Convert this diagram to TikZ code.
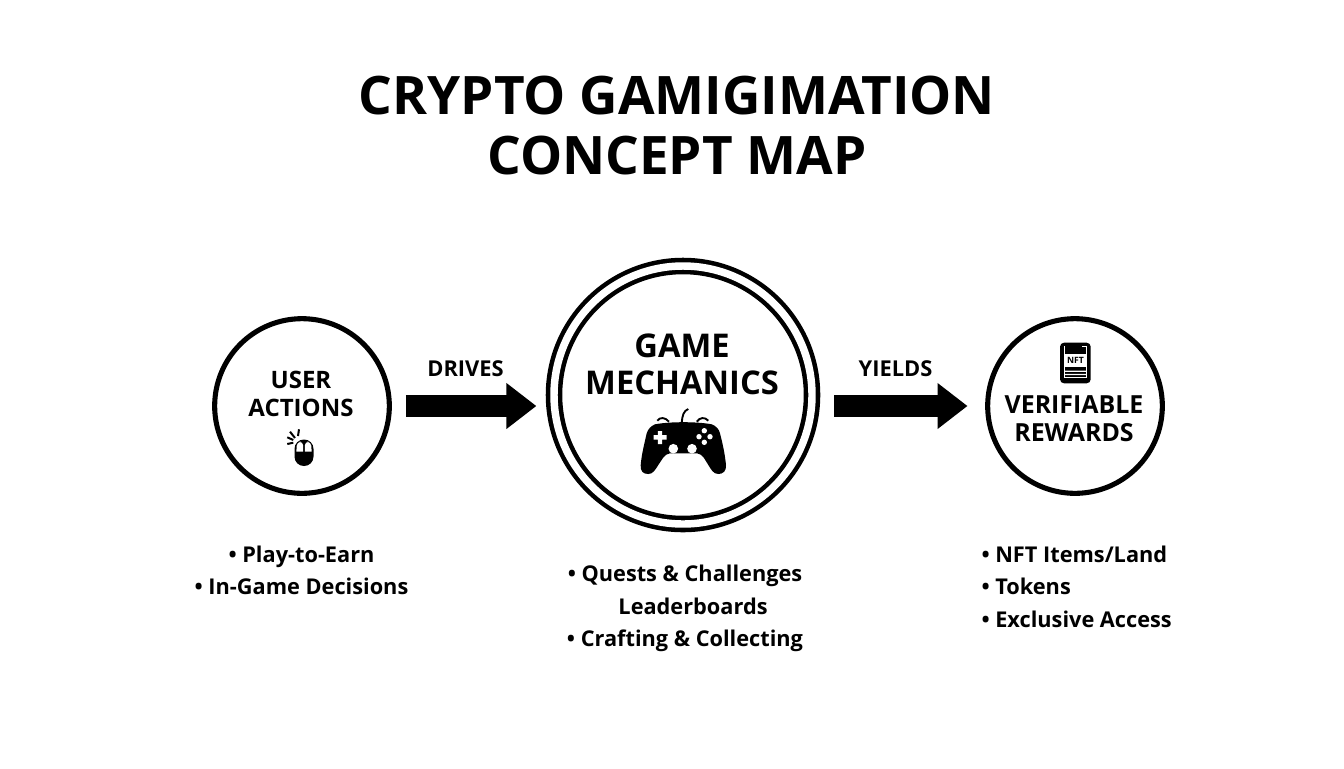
\documentclass[tikz,border=0pt]{standalone}
\usepackage{fontspec}
\setmainfont{Open Sans}
\usetikzlibrary{arrows.meta}
\tikzset{every picture/.style={line width=0.75pt}}
\tikzset{
  ringnode/.style={circle,draw,line width=3.8pt,inner sep=0pt,minimum size=131pt},
  headtext/.style={inner sep=0pt,align=center,font=\fontsize{18}{21}\selectfont\bfseries},
  edgetext/.style={inner sep=0pt,font=\fontsize{16.4}{18}\selectfont\bfseries},
  listtext/.style={inner sep=0pt,font=\fontsize{16.3}{24.4}\selectfont\bfseries},
  blockarrow/.style={line width=16.5pt,-{Triangle[length=22.5pt,width=33pt]}}
}

\begin{document}
\begin{tikzpicture}[x=0.75pt,y=0.75pt,yscale=-1,xscale=1]
\useasboundingbox (0,0) rectangle (1344,768);

% Text Node
\node (title) [inner sep=0pt,align=center,font=\fontsize{39.8}{45}\selectfont\bfseries] at (677,126) {CRYPTO GAMIGIMATION\\CONCEPT MAP};

%Shape: Circle
\node (user) [ringnode] at (302,406) {};
\node (game) [ringnode,minimum size=193.5pt,line width=3.4pt,double,double distance=5.6pt] at (683,395) {};
\node (rewards) [ringnode] at (1075,406) {};

%Straight Lines
\draw [blockarrow,shorten <=10.5pt,shorten >=11.5pt] (user.east) -- (user.east -| game.west);
\draw [blockarrow,shorten <=15pt,shorten >=13.2pt] (game.east |- rewards.west) -- (rewards.west);

% Text Node
\node (usertext) [headtext] at (301,394) {USER\\ACTIONS};
\node (gametext) [headtext,font=\fontsize{24.5}{27.5}\selectfont\bfseries] at (682,364) {GAME\\MECHANICS};
\node (rewardtext) [headtext,font=\fontsize{18.7}{21}\selectfont\bfseries] at (1074,419) {VERIFIABLE\\REWARDS};
\node (drives) [edgetext] at (465.5,369) {DRIVES};
\node (yields) [edgetext] at (895.5,369) {YIELDS};

% Text Node
\node (userlist) [listtext,align=center] at (301.5,570.5) {• Play-to-Earn\\• In-Game Decisions};
\node (gamelist) [listtext,align=center] at (685,608.5) {• Quests \& Challenges\\\hspace*{12pt}Leaderboards\\• Crafting \& Collecting};
\node (rewardlist) [listtext,align=left,anchor=west] at (981,586.5) {• NFT Items/Land\\• Tokens\\• Exclusive Access};

%Shape: mouse icon
\fill [rounded corners=7pt] (294.5,439.5) rectangle (313.5,466);
\fill [white,rounded corners=3pt] (296.4,451.5) -- (296.8,442) -- (303.2,441.5) -- (303.2,451.5);
\fill [white,rounded corners=3pt] (304.8,451.5) -- (304.8,441.5) -- (311.2,442) -- (311.6,451.5);
\draw [line width=1.5pt] (299,429.3) -- (298,436) (290,431.7) -- (295,438) (287.3,437.3) -- (293.3,440) (287.3,444) -- (293.3,442.7);

%Shape: gamepad icon
\fill (655,424.3) .. controls (670,421.5) and (697,421.5) .. (711.7,424.3) .. controls (716,426) and (719,429) .. (720,433.3) .. controls (723,445) and (725,455) .. (726,465) .. controls (726.5,471) and (723,474) .. (718.3,474) .. controls (713,474) and (711,469) .. (708.3,465) .. controls (705,460) and (703,454) .. (697,453.3) -- (670,453.3) .. controls (664,454) and (662,460) .. (658.3,465) .. controls (655,470) and (653,474) .. (648.3,474) .. controls (643,474) and (640,471) .. (640.7,465) .. controls (641.5,455) and (644,445) .. (646.7,433.3) .. controls (648,429) and (651,426) .. (655,424.3) -- cycle;
\fill [white] (657.8,431) rectangle (662.2,444) (653.5,435.1) rectangle (666.5,439.5);
\fill [white] (673.3,448.7) circle (4.8) (692,448.7) circle (4.8);
\fill [white] (704.3,430.7) circle (2.7) (699,436.7) circle (2.7) (710,436.7) circle (2.7) (704.3,442.3) circle (2.7);
\draw [line width=1.4pt] (681.7,422.7) .. controls (682.5,415) and (683.5,411) .. (688.3,409);
\draw [line width=1.4pt] (657.3,420.7) .. controls (660,417) and (665,417) .. (669,421.7);
\draw [line width=1.4pt] (696.7,421.7) .. controls (700,417) and (705,417) .. (708.3,420.7);

%Shape: card icon
\fill [rounded corners=3pt] (1060,342.7) rectangle (1090.7,383.3);
\draw [white,line width=0.6pt] (1064,346) -- (1064,377) -- (1086.5,377) -- (1086.5,346) -- (1082,346);
\fill [white] (1065,354) rectangle (1086,366.7);
\fill [white] (1065,370.6) rectangle (1086,371.8) (1065,373.8) rectangle (1086,375);
\node (nftlabel) [inner sep=0pt,font=\fontsize{6.5}{7}\selectfont\bfseries] at (1075.5,360.4) {NFT};

\end{tikzpicture}
\end{document}
